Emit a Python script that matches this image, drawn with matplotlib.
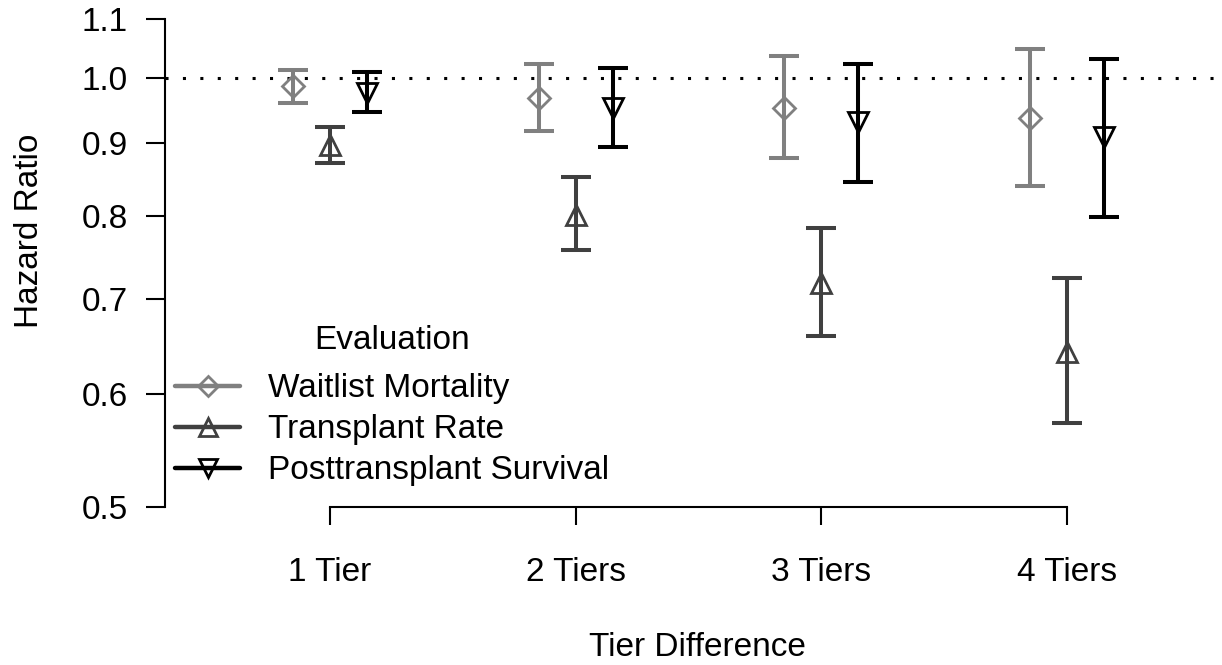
import numpy as np
import matplotlib
matplotlib.use("Agg")
import matplotlib.pyplot as plt
from matplotlib.lines import Line2D
from matplotlib.ticker import FixedLocator, NullLocator

plt.rcParams['font.family'] = ['Liberation Sans', 'DejaVu Sans']

tiers = ["1 Tier", "2 Tiers", "3 Tiers", "4 Tiers"]
series = ["Waitlist Mortality", "Transplant Rate", "Posttransplant Survival"]

# hazard ratio, lower and upper CI for each series, per tier
wl_hr = [0.987, 0.968, 0.953, 0.937]
wl_lo = [0.960, 0.918, 0.879, 0.840]
wl_hi = [1.013, 1.023, 1.036, 1.048]

tr_hr = [0.897, 0.801, 0.718, 0.642]
tr_lo = [0.872, 0.757, 0.659, 0.573]
tr_hi = [0.924, 0.852, 0.785, 0.724]

ps_hr = [0.976, 0.953, 0.931, 0.909]
ps_lo = [0.947, 0.894, 0.845, 0.799]
ps_hi = [1.010, 1.016, 1.023, 1.031]

yticks = [0.5, 0.6, 0.7, 0.8, 0.9, 1.0, 1.1]

colors = ["#808080", "#404040", "#000000"]
markers = ["D", "^", "v"]
msizes = [11, 14, 14]
offsets = [-0.15, 0.0, 0.15]

fig = plt.figure(figsize=(12.22, 6.65), dpi=100)
ax = fig.add_axes([165/1222, 1 - 507/665, (1215 - 165)/1222, (507 - 19)/665])

x = np.arange(1, len(tiers) + 1)
data = [(wl_hr, wl_lo, wl_hi), (tr_hr, tr_lo, tr_hi), (ps_hr, ps_lo, ps_hi)]
handles = []
for (hr, lo, hi), c, m, ms, off in zip(data, colors, markers, msizes, offsets):
    hr = np.array(hr); lo = np.array(lo); hi = np.array(hi)
    ax.errorbar(x + off, hr, yerr=[hr - lo, hi - hr], fmt='none',
                ecolor=c, elinewidth=2.9, capsize=11, capthick=2.9, zorder=3)
    ax.plot(x + off, hr, linestyle='none', marker=m, markersize=ms,
            markerfacecolor='none', markeredgecolor=c, markeredgewidth=2.0, zorder=4)
    handles.append(Line2D([], [], color=c, lw=3.2, marker=m, markersize=ms - 1,
                          markerfacecolor='none', markeredgecolor=c,
                          markeredgewidth=2.0, solid_capstyle='round'))

ax.axhline(1.0, color='black', lw=2.2, linestyle=(0, (1, 4.7)), zorder=1)

ax.set_yscale('log')
ax.set_ylim(0.5, 1.1)
ax.set_xlim(1 - 165/245.67, 4 + 148/245.67)
ax.yaxis.set_major_locator(FixedLocator(yticks))
ax.yaxis.set_minor_locator(NullLocator())
ax.set_yticklabels([f"{v:.1f}" for v in yticks])
ax.set_xticks(x)
ax.set_xticklabels(tiers)

for s in ['top', 'right']:
    ax.spines[s].set_visible(False)
ax.spines['left'].set_bounds(0.5, 1.1)
ax.spines['bottom'].set_bounds(1, 4)
ax.spines['left'].set_linewidth(1.5)
ax.spines['bottom'].set_linewidth(1.5)
ax.tick_params(axis='y', length=14, width=1.5, pad=13, labelsize=24)
ax.tick_params(axis='x', length=13, width=1.5, pad=23, labelsize=24)

fig.text(30/1222, 1 - 231/665, "Hazard Ratio", rotation=90, fontsize=24,
         ha='center', va='center')
fig.text(697/1222, 1 - 648/665, "Tier Difference", fontsize=24,
         ha='center', va='center')

leg = ax.legend(handles, series, title="Evaluation", loc='upper left',
                bbox_to_anchor=(175/1222, 1 - 325/665), bbox_transform=fig.transFigure,
                frameon=False, fontsize=24, title_fontsize=24, handlelength=1.95,
                handletextpad=0.85, labelspacing=0.3, borderpad=0, borderaxespad=0)
leg._legend_box.sep = 12.5

fig.savefig("out.png", dpi=100)
